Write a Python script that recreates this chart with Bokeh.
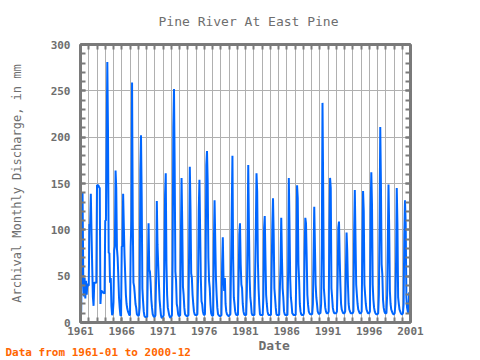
from bokeh.plotting import figure
from bokeh.models import (FixedTicker, SingleIntervalTicker, LinearAxis, Range1d,
                          Title, ColumnDataSource)
from bokeh.embed import file_html
from bokeh.resources import INLINE

title_text = "Pine River At East Pine"
y_label = "Archival Monthly Discharge, in mm"
x_label = "Date"
footer = "Data from 1961-01 to 2000-12"
x_tick_years = [1961, 1966, 1971, 1976, 1981, 1986, 1991, 1996, 2001]

q1961 = [10, 12, 80, 140, 50, 28, 48, 26, 45, 30, 42, 40]
q1962 = [40, 106, 106, 139, 98, 61, 28, 18, 43, 43, 43, 43]
q1963 = [148, 148, 148, 146, 145, 20, 34, 34, 33, 32, 32, 31]
q1964 = [110, 110, 195, 281, 205, 75, 75, 43, 48, 18, 8, 10]
q1965 = [22, 78, 82, 164, 145, 80, 70, 50, 27, 16, 8, 7]
q1966 = [82, 82, 139, 105, 73, 52, 30, 20, 15, 12, 10, 8]
q1967 = [8, 82, 110, 259, 111, 43, 39, 30, 20, 16, 9, 8]
q1968 = [7, 8, 16, 165, 202, 136, 37, 23, 12, 7, 6, 6]
q1969 = [6, 6, 61, 107, 57, 55, 43, 25, 16, 9, 7, 6]
q1970 = [6, 8, 50, 131, 84, 63, 43, 25, 16, 8, 5, 5]
q1971 = [6, 8, 64, 138, 161, 64, 30, 16, 12, 8, 6, 5]
q1972 = [6, 8, 66, 211, 252, 166, 55, 45, 20, 16, 9, 7]
q1973 = [7, 8, 91, 156, 105, 39, 30, 16, 9, 8, 7, 7]
q1974 = [7, 8, 79, 168, 123, 53, 48, 30, 20, 12, 9, 8]
q1975 = [8, 8, 9, 48, 122, 154, 100, 48, 23, 20, 12, 9]
q1976 = [8, 9, 55, 170, 185, 152, 70, 45, 37, 20, 10, 8]
q1977 = [7, 8, 86, 132, 89, 48, 30, 16, 9, 8, 7, 7]
q1978 = [7, 8, 63, 92, 48, 34, 48, 20, 12, 9, 8, 7]
q1979 = [7, 8, 9, 64, 122, 180, 70, 27, 20, 12, 9, 8]
q1980 = [8, 8, 45, 95, 107, 63, 41, 37, 20, 12, 9, 8]
q1981 = [8, 8, 34, 95, 170, 102, 48, 27, 20, 10, 8, 8]
q1982 = [8, 8, 52, 100, 161, 141, 66, 37, 20, 9, 8, 8]
q1983 = [8, 8, 27, 102, 115, 70, 30, 20, 12, 9, 8, 8]
q1984 = [8, 8, 55, 104, 134, 95, 37, 27, 16, 9, 8, 8]
q1985 = [8, 8, 37, 63, 113, 70, 37, 27, 12, 9, 8, 8]
q1986 = [8, 8, 55, 156, 106, 48, 27, 20, 10, 9, 8, 8]
q1987 = [8, 8, 63, 148, 134, 63, 45, 20, 12, 9, 8, 8]
q1988 = [8, 10, 77, 113, 107, 70, 30, 19, 12, 10, 9, 9]
q1989 = [9, 9, 20, 72, 125, 82, 41, 27, 20, 12, 10, 9]
q1990 = [10, 10, 20, 84, 237, 145, 37, 27, 16, 12, 10, 10]
q1991 = [10, 12, 100, 156, 145, 37, 27, 16, 12, 10, 10, 10]
q1992 = [10, 12, 44, 102, 109, 70, 41, 20, 14, 12, 10, 10]
q1993 = [10, 12, 53, 97, 77, 41, 20, 14, 12, 10, 10, 10]
q1994 = [10, 12, 98, 143, 91, 41, 30, 20, 14, 12, 10, 10]
q1995 = [10, 12, 82, 142, 120, 41, 30, 20, 14, 12, 10, 10]
q1996 = [10, 12, 123, 162, 127, 41, 25, 16, 12, 10, 9, 9]
q1997 = [9, 10, 30, 104, 211, 149, 63, 52, 25, 16, 12, 10]
q1998 = [10, 10, 30, 86, 149, 102, 34, 20, 14, 12, 10, 9]
q1999 = [9, 10, 20, 66, 145, 106, 27, 20, 14, 12, 10, 9]
q2000 = [9, 10, 20, 95, 132, 106, 27, 16, 12, 10, 32, 32]

yearly = [q1961, q1962, q1963, q1964, q1965, q1966, q1967, q1968, q1969, q1970,
          q1971, q1972, q1973, q1974, q1975, q1976, q1977, q1978, q1979, q1980,
          q1981, q1982, q1983, q1984, q1985, q1986, q1987, q1988, q1989, q1990,
          q1991, q1992, q1993, q1994, q1995, q1996, q1997, q1998, q1999, q2000]

xs, ys = [], []
for i, vals in enumerate(yearly):
    for m, v in enumerate(vals):
        xs.append(1961 + i + m / 12.0)
        ys.append(v)
src = ColumnDataSource(dict(x=xs, y=ys))

FONT = "DejaVu Sans Mono"
GRAY = "#6e6e6e"
AX = "#7a7a7a"

p = figure(width=480, height=360, output_backend="svg", toolbar_location=None,
           x_range=Range1d(1961, 2001), y_range=Range1d(0, 300),
           min_border_left=80, min_border_right=70, min_border_top=43,
           min_border_bottom=38)

p.title.text = title_text
p.title.align = "left"
p.title.vertical_align = "top"
p.title.offset = 78
p.title.standoff = 27
p.title.text_font = FONT
p.title.text_font_size = "13px"
p.title.text_font_style = "normal"
p.title.text_color = GRAY

p.line("x", "y", source=src, line_color="#0066ff", line_width=2)

p.xgrid.ticker = FixedTicker(ticks=list(range(1961, 2002)))
p.ygrid.ticker = SingleIntervalTicker(interval=50)
for g in (p.xgrid, p.ygrid):
    g.grid_line_color = "#b0b0b0"
    g.grid_line_width = 1

xa = p.xaxis[0]
xa.ticker = FixedTicker(ticks=x_tick_years, minor_ticks=list(range(1961, 2002)))
ya = p.yaxis[0]
ya.ticker = SingleIntervalTicker(interval=50, num_minor_ticks=5)
ya.axis_label = y_label
ya.axis_label_standoff = 24

for ax in (xa, ya):
    ax.axis_line_color = AX
    ax.axis_line_width = 3
    ax.major_tick_in = 5
    ax.major_tick_out = 0
    ax.minor_tick_in = 5
    ax.minor_tick_out = 0
    ax.major_tick_line_color = AX
    ax.minor_tick_line_color = AX
    ax.major_tick_line_width = 2
    ax.minor_tick_line_width = 2
    ax.major_label_text_font = FONT
    ax.major_label_text_font_size = "11px"
    ax.major_label_text_font_style = "bold"
    ax.major_label_text_color = GRAY
    ax.axis_label_text_font = FONT
    ax.axis_label_text_font_size = "12px"
    ax.axis_label_text_font_style = "normal"
    ax.axis_label_text_color = GRAY
xa.major_label_standoff = 4
ya.major_label_standoff = 10

top = LinearAxis(ticker=FixedTicker(ticks=list(range(1961, 2002))))
right = LinearAxis(ticker=SingleIntervalTicker(interval=50, num_minor_ticks=5))
for ax in (top, right):
    ax.axis_line_color = AX
    ax.axis_line_width = 3
    ax.major_tick_in = 5
    ax.major_tick_out = 0
    ax.minor_tick_in = 5
    ax.minor_tick_out = 0
    ax.major_tick_line_color = AX
    ax.minor_tick_line_color = AX
    ax.major_tick_line_width = 2
    ax.minor_tick_line_width = 2
    ax.major_label_text_font_size = "1px"
    ax.major_label_text_color = None
    ax.major_label_standoff = 0
top.minor_tick_in = 0
p.add_layout(top, "above")
p.add_layout(right, "right")

p.outline_line_color = AX
p.outline_line_width = 2

date_title = Title(text=x_label, align="left", offset=178, standoff=-4,
                   text_font=FONT, text_font_size="13px", text_font_style="bold",
                   text_color=GRAY)
foot_title = Title(text=footer, align="left", offset=-75, standoff=-13,
                   text_font=FONT, text_font_size="11px", text_font_style="bold",
                   text_color="#ff6600")
p.add_layout(date_title, "below")
p.add_layout(foot_title, "below")

open("out.html", "w").write(file_html(p, INLINE))
